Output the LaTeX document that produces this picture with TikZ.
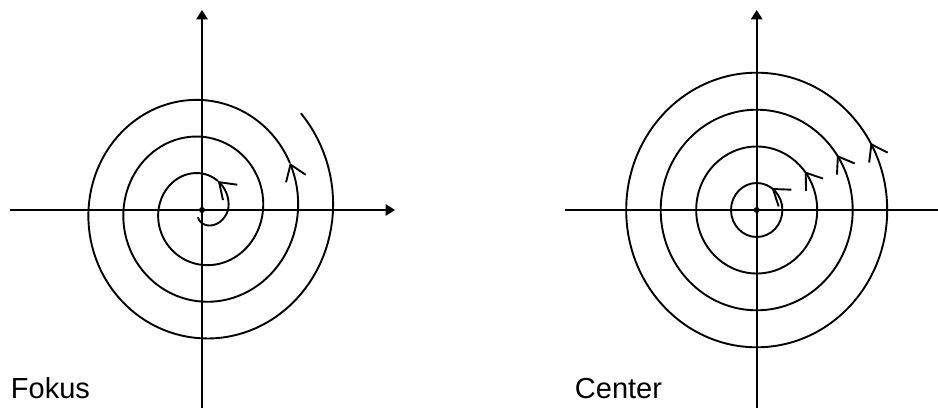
\documentclass[tikz,border=0pt]{standalone}
\usepackage{fontspec}
\setmainfont{Liberation Sans}
\usetikzlibrary{arrows.meta,decorations.markings}
\begin{document}
\begin{tikzpicture}[x=1pt,y=1pt,
  line width=1.9pt,
  declare function={sr(\t)=(\t<0)*(26+0.15*\t)+(\t>=0)*(26+0.0972222*\t);},
  axis/.style={line width=1.9pt,-{Triangle[length=9.5pt,width=11.5pt]}},
  plainaxis/.style={line width=1.9pt},
  curve/.style={line width=1.9pt},
  barb/.style={-{Straight Barb[length=15pt,width=21pt]}},
  ringarrow/.style={postaction={decorate},
    decoration={markings, mark=at position #1 with {\arrow{Straight Barb[length=15pt,width=21pt]}}}},
  lbl/.style={font=\fontsize{29}{34}\selectfont, anchor=base west, inner sep=0pt},
  dot/.style={circle,fill,inner sep=0pt,minimum size=6pt},
  ]
\useasboundingbox (0,0) rectangle (938,408);

% ---------- left panel: focus ----------
\coordinate (O1) at (202,198);
\coordinate (X1a) at (10,198);
\coordinate (X1b) at (395,198);
\coordinate (Y1a) at (202,0);
\coordinate (Y1b) at (202,398);
\draw[axis] (X1a) -- (X1b);
\draw[axis] (Y1a) -- (Y1b);

\begin{scope}[shift={(O1)}]
  \draw[curve,barb] plot[domain=-120:60, samples=60] ({sr(\x)*cos(\x)},{1.05*sr(\x)*sin(\x)});
  \draw[curve,barb] plot[domain=60:747, samples=200] ({sr(\x)*cos(\x)},{1.05*sr(\x)*sin(\x)});
  \draw[curve] plot[domain=747:1123, samples=120] ({sr(\x)*cos(\x)},{1.05*sr(\x)*sin(\x)});
\end{scope}
\node[dot] (c1) at (O1) {};
\node[lbl] (fokus) at (10,10) {Fokus};

% ---------- right panel: center ----------
\coordinate (O2) at (756.7,198);
\coordinate (X2a) at (565,198);
\coordinate (X2b) at (938,198);
\coordinate (Y2a) at (756.7,0);
\coordinate (Y2b) at (756.7,398);
\draw[plainaxis] (X2a) -- (X2b);
\draw[axis] (Y2a) -- (Y2b);

\draw[curve,ringarrow=0.153] (O2) ellipse [x radius=25.7pt, y radius=27pt];
\draw[curve,ringarrow=0.106] (O2) ellipse [x radius=60.5pt, y radius=63.5pt];
\draw[curve,ringarrow=0.094] (O2) ellipse [x radius=96pt, y radius=100.3pt];
\draw[curve,ringarrow=0.083] (O2) ellipse [x radius=130.5pt, y radius=137.3pt];
\node[dot] (c2) at (O2) {};
\node[lbl] (centerlbl) at (574,10) {Center};
\end{tikzpicture}
\end{document}
